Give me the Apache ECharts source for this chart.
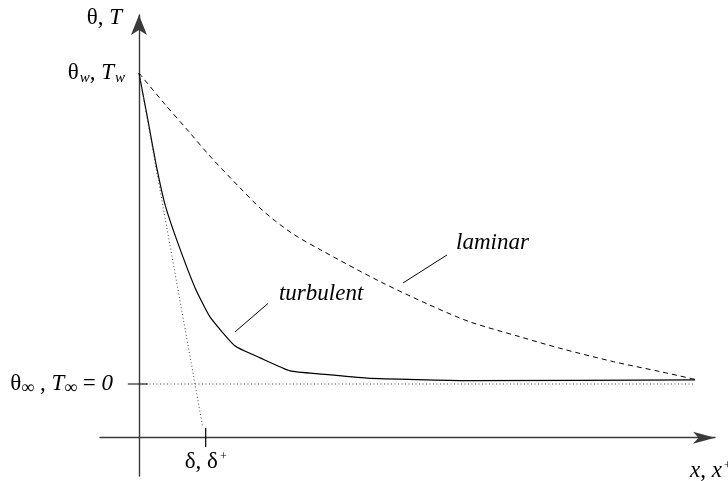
<!DOCTYPE html>
<html>
<head>
<meta charset="utf-8">
<script src="https://cdn.jsdelivr.net/npm/echarts@6/dist/echarts.min.js"></script>
<style>
  html, body { margin: 0; padding: 0; background: #fff; }
  #chart { width: 728px; height: 481px; }
</style>
</head>
<body>
<div id="chart"></div>
<script>
// Dimensionless distance from the wall (0..1) and temperature (θ∞ = 0, θw = 1)
const laminarX = [0, 0.045, 0.090, 0.126, 0.180, 0.225, 0.275, 0.327, 0.434, 0.523, 0.595, 0.685, 0.757, 0.853, 0.937, 1.0];
const laminarTheta = [1, 0.903, 0.811, 0.736, 0.634, 0.554, 0.485, 0.431, 0.329, 0.254, 0.200, 0.152, 0.115, 0.072, 0.040, 0.015];
const turbulentX = [0, 0.016, 0.031, 0.047, 0.070, 0.101, 0.128, 0.173, 0.218, 0.272, 0.326, 0.410, 0.590, 1.0];
const turbulentTheta = [1, 0.849, 0.704, 0.576, 0.453, 0.309, 0.215, 0.122, 0.084, 0.042, 0.032, 0.019, 0.011, 0.013];
const wallTheta = 1;
const freeStreamTheta = 0;
const freeStreamX = [0, 1];
// wall tangent of the turbulent profile, reaching the thickness δ
const tangentX = [0, 0.115];
const tangentTheta = [1, -0.1415];
const deltaX = 0.12;
const deltaTickTheta = [-0.1415, -0.2026];
const freeStreamTickX = [-0.02, 0.016];
// leader lines for the curve names: [x0, θ0, x1, θ1]
const laminarLeader = [0.475, 0.325, 0.554, 0.415];
const turbulentLeader = [0.173, 0.168, 0.232, 0.259];
// axis extents
const xMin = -0.0701, xMax = 1.036;
const yMin = -0.2958, yMax = 1.1865;

const FONT = '"Liberation Serif", "DejaVu Serif", serif';
const FS = 23;
const rich = {
  g: { fontFamily: FONT, fontSize: FS, color: '#000', lineHeight: 26 },
  i: { fontFamily: FONT, fontSize: FS, fontStyle: 'italic', color: '#000', lineHeight: 26 },
  sub: { fontFamily: FONT, fontSize: 15, fontStyle: 'italic', color: '#000', lineHeight: 26, verticalAlign: 'bottom', padding: [0, 0, 0, 1] },
  subInf: { fontFamily: FONT, fontSize: 18, color: '#000', lineHeight: 26, verticalAlign: 'bottom' },
  sup: { fontFamily: FONT, fontSize: 12, color: '#000', lineHeight: 26, verticalAlign: 'top', padding: [2, 0, 0, 2] },
  gap: { width: 12 }
};

const zip = (xs, ys) => xs.map((x, k) => [x, ys[k]]);

const chart = echarts.init(document.getElementById('chart'), null, { renderer: 'canvas' });

function leaderSeries(seg, text, offset) {
  return {
    type: 'line',
    data: [[seg[0], seg[1]], [seg[2], seg[3]]],
    showSymbol: false,
    silent: true,
    lineStyle: { color: '#000', width: 1 },
    endLabel: {
      show: true,
      formatter: () => text,
      distance: 0,
      offset: offset,
      fontFamily: FONT,
      fontSize: FS,
      fontStyle: 'italic',
      color: '#000',
      align: 'left',
      verticalAlign: 'middle'
    }
  };
}

chart.setOption({
  animation: false,
  backgroundColor: '#fff',
  textStyle: { fontFamily: FONT },
  grid: { left: 100, right: 13, top: 15, bottom: 5, containLabel: false, outerBoundsMode: 'none' },
  xAxis: {
    type: 'value',
    min: xMin,
    max: xMax,
    position: 'bottom',
    offset: -38.3,
    splitLine: { show: false },
    axisTick: { show: false },
    axisLine: {
      onZero: false,
      lineStyle: { color: '#3a3a3a', width: 1.4 },
      symbol: ['none', 'arrow'],
      symbolSize: [9, 22]
    },
    axisLabel: {
      customValues: [deltaX],
      margin: 11,
      formatter: () => '{g|δ, δ}{sup|+}',
      rich: rich
    },
    name: '{i|x}{g|, }{i|x}{sup|+}',
    nameLocation: 'end',
    nameGap: -25,
    nameTextStyle: { align: 'left', verticalAlign: 'top', padding: [20, 0, 0, 0], rich: rich }
  },
  yAxis: {
    type: 'value',
    min: yMin,
    max: yMax,
    splitLine: { show: false },
    axisTick: { show: false },
    axisLine: {
      onZero: true,
      lineStyle: { color: '#3a3a3a', width: 1.4 },
      symbol: ['none', 'arrow'],
      symbolSize: [12, 20]
    },
    axisLabel: {
      customValues: [freeStreamTheta, wallTheta],
      margin: -25,
      formatter: v => v === wallTheta
        ? '{g|θ}{sub|w}{g|, }{i|T}{sub|w}'
        : '{g|θ}{subInf|∞}{g| , }{i|T}{subInf|∞}{g| = }{i|0}{gap|}',
      rich: rich
    },
    name: '{g|θ, }{i|T}',
    nameLocation: 'end',
    nameGap: -3,
    nameTextStyle: { align: 'right', verticalAlign: 'middle', padding: [0, 17, 0, 0], rich: rich }
  },
  series: [
    {
      name: 'laminar',
      type: 'line',
      data: zip(laminarX, laminarTheta),
      smooth: 0.3,
      showSymbol: false,
      lineStyle: { color: '#000', width: 1, type: [5, 4] }
    },
    {
      name: 'turbulent',
      type: 'line',
      data: zip(turbulentX, turbulentTheta),
      smooth: 0.15,
      showSymbol: false,
      lineStyle: { color: '#000', width: 1.2 }
    },
    {
      name: 'free stream',
      type: 'line',
      data: freeStreamX.map(x => [x, freeStreamTheta]),
      showSymbol: false,
      lineStyle: { color: '#444', width: 1, type: [1, 2.5] }
    },
    {
      name: 'tangent',
      type: 'line',
      data: zip(tangentX, tangentTheta),
      showSymbol: false,
      lineStyle: { color: '#444', width: 1, type: [1, 2.5] }
    },
    {
      name: 'free stream tick',
      type: 'line',
      data: freeStreamTickX.map(x => [x, freeStreamTheta]),
      showSymbol: false,
      lineStyle: { color: '#000', width: 1.2 }
    },
    {
      name: 'delta tick',
      type: 'line',
      data: deltaTickTheta.map(t => [deltaX, t]),
      showSymbol: false,
      lineStyle: { color: '#000', width: 1.2 }
    },
    leaderSeries(laminarLeader, 'laminar', [9, -12]),
    leaderSeries(turbulentLeader, 'turbulent', [11, -10])
  ]
});
</script>
</body>
</html>
